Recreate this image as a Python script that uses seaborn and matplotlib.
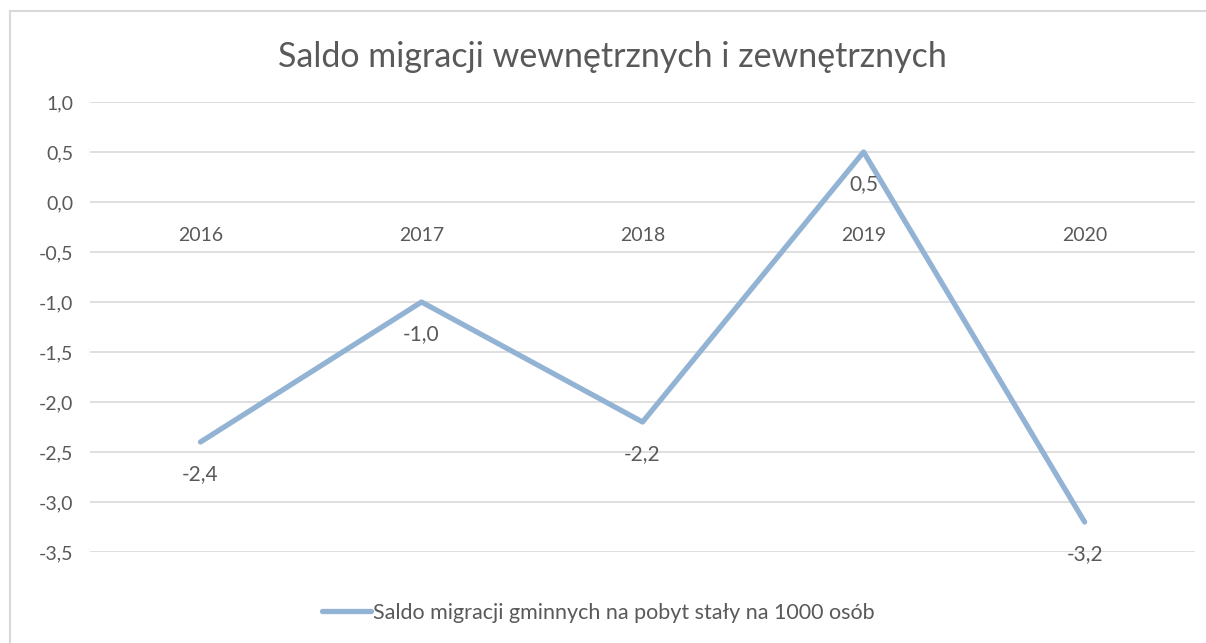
import matplotlib
matplotlib.use("Agg")
import matplotlib.pyplot as plt
import seaborn as sns
import pandas as pd
from matplotlib.lines import Line2D

years = ["2016", "2017", "2018", "2019", "2020"]
saldo = [-2.4, -1.0, -2.2, 0.5, -3.2]
y_ticks = [1.0, 0.5, 0.0, -0.5, -1.0, -1.5, -2.0, -2.5, -3.0, -3.5]

title = "Saldo migracji wewnętrznych i zewnętrznych"
series_name = "Saldo migracji gminnych na pobyt stały na 1000 osób"

def fmt(v):
    return f"{v:.1f}".replace(".", ",")

sns.set_theme(style="white")
plt.rcParams["font.family"] = ["Lato", "DejaVu Sans"]

text_col = "#595959"
line_col = "#93B3D5"
grid_col = "#D9D9D9"

df = pd.DataFrame({"rok": years, "saldo": saldo})

fig = plt.figure(figsize=(12.06, 6.43), dpi=100)
ax = fig.add_axes([0.0746, 0.1415, 0.9164, 0.6999])

sns.lineplot(data=df, x="rok", y="saldo", ax=ax, color=line_col,
             linewidth=3.8, label=series_name, sort=False)

ax.set_xlim(-0.5, len(years) - 0.5)
ax.set_ylim(min(y_ticks), max(y_ticks))
ax.set_yticks(y_ticks)
ax.set_yticklabels([fmt(v) for v in y_ticks])
ax.yaxis.grid(True, color=grid_col, linewidth=1.2)
ax.xaxis.grid(False)
for s in ax.spines.values():
    s.set_visible(False)
ax.spines["bottom"].set_position(("data", 0))
ax.tick_params(axis="both", length=0, colors=text_col, labelsize=14)
ax.tick_params(axis="y", pad=12)
ax.tick_params(axis="x", pad=18)
ax.set_xlabel("")
ax.set_ylabel("")

for i, v in enumerate(saldo):
    ax.annotate(fmt(v), (i, v), xytext=(0, -16), textcoords="offset points",
                ha="center", va="top", fontsize=15, color=text_col)

fig.suptitle(title, fontsize=24.5, color=text_col, x=0.508, y=0.911, va="center")

leg = ax.legend(loc="upper center", bbox_to_anchor=(0.46, -0.07), frameon=False,
                fontsize=15.5, handlelength=2.3, handletextpad=0.1)
for t in leg.get_texts():
    t.set_color(text_col)

fig.add_artist(Line2D([0.008, 0.008], [0, 0.983], transform=fig.transFigure,
                      color=grid_col, linewidth=1.5))
fig.add_artist(Line2D([0.008, 1.0], [0.983, 0.983], transform=fig.transFigure,
                      color=grid_col, linewidth=1.5))

fig.savefig("out.png", dpi=100, facecolor="white")
